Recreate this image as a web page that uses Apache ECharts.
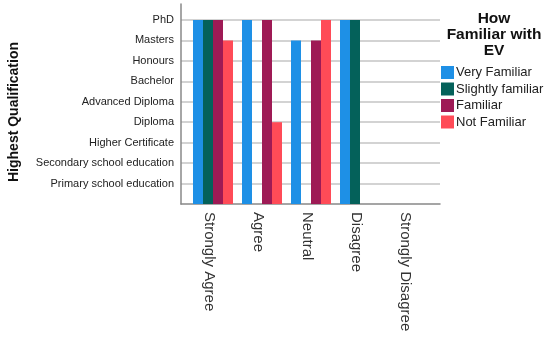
<!DOCTYPE html>
<html>
<head>
<meta charset="utf-8">
<script src="https://cdn.jsdelivr.net/npm/echarts@6/dist/echarts.min.js"></script>
<style>html,body{margin:0;padding:0;background:#fff;}#c{width:550px;height:341px;}</style>
</head>
<body>
<div id="c"></div>
<script>
const categories = ['Strongly Agree', 'Agree', 'Neutral', 'Disagree', 'Strongly Disagree'];
// tick labels, bottom (1) to top (9)
const qualifications = ['Primary school education', 'Secondary school education', 'Higher Certificate', 'Diploma', 'Advanced Diploma', 'Bachelor', 'Honours', 'Masters', 'PhD'];
const seriesNames = ['Very Familiar', 'Slightly familiar', 'Familiar', 'Not Familiar'];
const veryFamiliar = ['PhD', 'PhD', 'Masters', 'PhD', null];
const slightlyFamiliar = ['PhD', null, null, 'PhD', null];
const familiar = ['PhD', 'PhD', 'Masters', null, null];
const notFamiliar = ['Masters', 'Diploma', 'PhD', null, null];
const colors = ['#1E90E6', '#04615A', '#9E1A55', '#FF4B57'];

const toLevel = arr => arr.map(q => q === null ? null : qualifications.indexOf(q) + 1);
const allData = [veryFamiliar, slightlyFamiliar, familiar, notFamiliar];
const FONT = '"Liberation Sans", Arial, sans-serif';
const yMax = 9.78;

const chart = echarts.init(document.getElementById('c'), null, {renderer: 'canvas'});
chart.setOption({
  animation: false,
  color: colors,
  title: {
    text: 'How\nFamiliar with\nEV',
    left: 489, top: 6, textAlign: 'center',
    textStyle: {fontFamily: FONT, fontSize: 15.5, fontWeight: 'bold', color: '#111', lineHeight: 16}
  },
  legend: {
    orient: 'vertical', left: 441, top: 66, padding: 0,
    icon: 'rect', itemWidth: 13, itemHeight: 13, itemGap: 3.5,
    data: seriesNames,
    textStyle: {fontFamily: FONT, fontSize: 13, color: '#222', padding: [0, 0, 0, -3]}
  },
  grid: [
    {left: 181, right: 110, top: 4, bottom: 137},
    {left: 188.5, right: 116.5, top: 4, bottom: 137}
  ],
  xAxis: [
    {gridIndex: 0, type: 'category', data: categories, boundaryGap: true,
     axisLine: {show: true, lineStyle: {color: '#888', width: 1.5}}, axisTick: {show: false}, axisLabel: {show: false}},
    {gridIndex: 1, type: 'category', data: categories, boundaryGap: true,
     axisLine: {show: false}, axisTick: {show: false},
     axisLabel: {rotate: -90, margin: 8, fontFamily: FONT, fontSize: 15, color: '#333', interval: 0,
       verticalAlign: 'top', lineHeight: 8}}
  ],
  yAxis: [
    {gridIndex: 0, type: 'value', min: 0, max: yMax, interval: 1,
     name: 'Highest Qualification', nameLocation: 'middle', nameRotate: 90, nameGap: 160,
     nameTextStyle: {fontFamily: FONT, fontSize: 14, fontWeight: 'bold', color: '#111', padding: [0, 16, 0, 0]},
     axisLine: {show: true, lineStyle: {color: '#888', width: 1.5}}, axisTick: {show: false},
     axisLabel: {margin: 7, fontFamily: FONT, fontSize: 11, color: '#222', showMaxLabel: false,
       formatter: v => (Number.isInteger(v) && v >= 1 && v <= qualifications.length) ? qualifications[v - 1] : ''},
     splitLine: {show: true, showMaxLine: false, showMinLine: false, lineStyle: {color: '#c4c4c4', width: 1.5}}},
    {gridIndex: 1, type: 'value', min: 0, max: yMax, interval: 1,
     axisLine: {show: false}, axisTick: {show: false}, axisLabel: {show: false}, splitLine: {show: false}}
  ],
  series: seriesNames.map((name, i) => ({
    name: name, type: 'bar', xAxisIndex: 1, yAxisIndex: 1,
    barWidth: 10, barGap: '0%',
    data: toLevel(allData[i])
  }))
});
</script>
</body>
</html>
